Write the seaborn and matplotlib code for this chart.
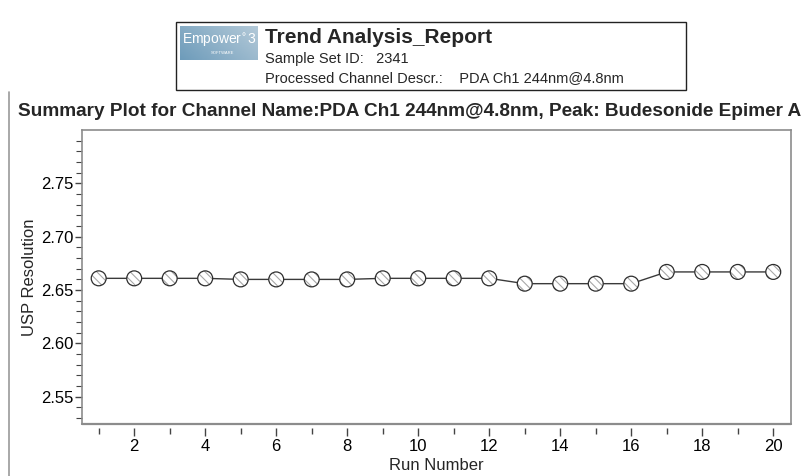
import numpy as np
import pandas as pd
import seaborn as sns
import matplotlib.pyplot as plt
from matplotlib.patches import Rectangle
from matplotlib.lines import Line2D

# run number vs USP resolution
runs = list(range(1, 21))
usp_resolution = [2.661, 2.661, 2.661, 2.661, 2.660, 2.660, 2.660, 2.660,
                  2.661, 2.661, 2.661, 2.661, 2.656, 2.656, 2.656, 2.656,
                  2.667, 2.667, 2.667, 2.667]
x_ticks = [2, 4, 6, 8, 10, 12, 14, 16, 18, 20]
y_ticks = [2.55, 2.60, 2.65, 2.70, 2.75]

sns.set_theme(style='white')
plt.rcParams['font.family'] = ['Liberation Sans', 'DejaVu Sans']
plt.rcParams['hatch.linewidth'] = 0.8

df = pd.DataFrame({'Run Number': runs, 'USP Resolution': usp_resolution})

fig = plt.figure(figsize=(8.09, 4.76), dpi=100)
W, H = 809, 476
ax = fig.add_axes([82 / W, (H - 424) / H, (791 - 82) / W, (424 - 130) / H])

sns.lineplot(data=df, x='Run Number', y='USP Resolution', ax=ax,
             color='#3a3a3a', linewidth=1.0, zorder=2)
# hatched fill (light grey) then dark outline on top
sns.scatterplot(data=df, x='Run Number', y='USP Resolution', ax=ax,
                s=115, facecolor='white', edgecolor='#a8a8a8', linewidth=0.0,
                hatch='\\\\\\\\', zorder=3)
sns.scatterplot(data=df, x='Run Number', y='USP Resolution', ax=ax,
                s=115, facecolor='none', edgecolor='#2e2e2e', linewidth=0.9,
                zorder=4)

ax.set_xlim(0.53, 20.5)
ax.set_ylim(2.5245, 2.80)
ax.set_xticks(x_ticks)
ax.set_xticks(runs, minor=True)
ax.set_yticks(y_ticks)
ax.set_yticks(np.round(np.arange(2.53, 2.80, 0.01), 2), minor=True)
ax.set_yticklabels([f'{v:.2f}' for v in y_ticks])

for side in ['left', 'bottom', 'top', 'right']:
    ax.spines[side].set_visible(True)
    ax.spines[side].set_color('#8c8c8c')
    ax.spines[side].set_linewidth(1.2)
ax.spines['bottom'].set_position(('outward', 3))
ax.spines['bottom'].set_visible(False)
ax.axhline(2.5245, color='#8c8c8c', linewidth=1.6, clip_on=False, zorder=5)

ax.tick_params(axis='both', which='both', direction='out', colors='#444444',
               labelcolor='black', labelsize=12)
ax.tick_params(axis='x', which='major', length=6, width=1, bottom=True)
ax.tick_params(axis='x', which='minor', length=4, width=1, bottom=True)
ax.tick_params(axis='y', which='major', length=5, width=1, left=True, pad=1)
ax.tick_params(axis='y', which='minor', length=4, width=0.8, left=True)
ax.xaxis.set_tick_params(which='both', pad=2)

ax.set_xlabel('Run Number', fontsize=12, labelpad=3)
ax.set_ylabel('USP Resolution', fontsize=12, labelpad=3)

# chart title
fig.text(18 / W, 1 - 112 / H, 'Summary Plot for Channel Name:PDA Ch1 244nm@4.8nm, Peak: Budesonide Epimer A',
         fontsize=13.7, fontweight='bold', ha='left', va='center')

# report header box
fig.patches.append(Rectangle((176 / W, 1 - 90 / H), (686 - 176) / W, (90 - 22) / H,
                             transform=fig.transFigure, fill=False,
                             edgecolor='#222222', linewidth=1.0))
logo = fig.add_axes([180 / W, 1 - 60 / H, (258 - 180) / W, (60 - 26) / H])
grad = np.linspace(0.8, 0.2, 64).reshape(1, -1) + np.linspace(0, 0.3, 16).reshape(-1, 1)
logo.imshow(grad, cmap=sns.light_palette('#5f92b4', as_cmap=True),
            aspect='auto', vmin=-0.6, vmax=1.3)
logo.axis('off')
logo.text(0.5, 0.58, 'Empower$^{\\circ}$3', fontsize=10, color='white',
          ha='center', va='center', transform=logo.transAxes)
logo.text(0.55, 0.2, 'SOFTWARE', fontsize=3, color='white',
          ha='center', va='center', transform=logo.transAxes)
fig.text(265 / W, 1 - 38 / H, 'Trend Analysis_Report', fontsize=15,
         fontweight='bold', ha='left', va='center')
fig.text(265 / W, 1 - 59 / H, 'Sample Set ID:   2341', fontsize=10.5,
         ha='left', va='center')
fig.text(265 / W, 1 - 78 / H, 'Processed Channel Descr.:    PDA Ch1 244nm@4.8nm',
         fontsize=10.5, ha='left', va='center')

# page edge line on the left
fig.lines.append(Line2D([8.5 / W, 8.5 / W], [0, 1 - 92 / H], transform=fig.transFigure,
                        color='#9a9a9a', linewidth=1.2))

fig.savefig('out.png', dpi=100)
